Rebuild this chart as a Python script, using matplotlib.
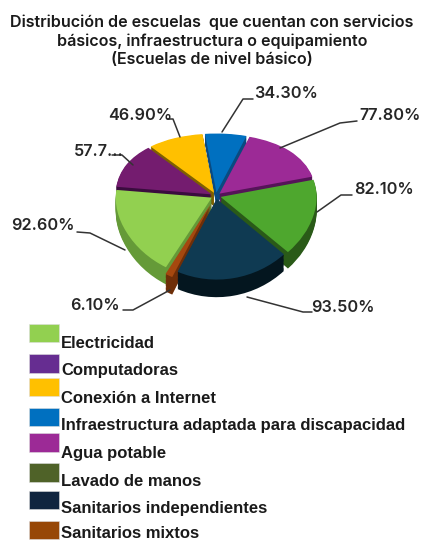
import numpy as np
import matplotlib
matplotlib.use("Agg")
import matplotlib.pyplot as plt
from matplotlib.patches import Rectangle

# datos
categorias = ["Electricidad", "Computadoras", "Conexión a Internet",
              "Infraestructura adaptada para discapacidad", "Agua potable",
              "Lavado de manos", "Sanitarios independientes", "Sanitarios mixtos"]
valores = [92.6, 57.7, 46.9, 34.3, 77.8, 82.1, 93.5, 6.1]
etiquetas = ["92.60%", "57.7...", "46.90%", "34.30%", "77.80%", "82.10%", "93.50%", "6.10%"]
titulo = ("Distribución de escuelas  que cuentan con servicios\n"
          "básicos, infraestructura o equipamiento\n"
          "(Escuelas de nivel básico)")

# colores
col_top = ["#92D050", "#741C6F", "#FFC000", "#0070C0", "#9C2A96", "#4EA72E", "#0F3A52", "#A5480F"]
col_lado = ["#659A38", "#3A0C3E", "#7E6000", "#0A4A80", "#551458", "#2A5A18", "#04161F", "#6E2E08"]
col_leyenda = ["#92D050", "#662D91", "#FFC000", "#0070C0", "#9C2A96", "#4F6228", "#10253F", "#974706"]
explode = [0.05, 0.05, 0.05, 0.05, 0.05, 0.05, 0.04, 0.11]

W, H = 422, 542
fig = plt.figure(figsize=(W / 100, H / 100), dpi=100, facecolor="white")

# pastel con perspectiva: escala no lineal en y
def f(y):
    return 70 * np.asarray(y) - 10 * np.asarray(y) ** 2

def finv(v):
    return (70 - np.sqrt(np.maximum(4900 - 40 * np.asarray(v), 0))) / 20

x0, x1, y0, y1 = 60, 372, 90, 310
cx, cy, rx = 216, 196, 96
ax = fig.add_axes([x0 / W, 1 - y1 / H, (x1 - x0) / W, (y1 - y0) / H])

prof = 0.19
capas = np.linspace(prof, 0, 14)
for d in capas:
    cols = col_top if d == 0 else col_lado
    ax.pie(valores, colors=cols, startangle=-118.5, counterclock=False,
           explode=explode, center=(0, -d), radius=1, normalize=True,
           wedgeprops={"linewidth": 0, "edgecolor": "none"})

ax.set_aspect("auto")
ax.set_xlim((x0 - cx) / rx, (x1 - cx) / rx)
ax.set_yscale("function", functions=(f, finv))
ax.set_ylim(finv(cy - y1), finv(cy - y0))
ax.set_axis_off()

# capa en pixeles para textos, guias y leyenda
ov = fig.add_axes([0, 0, 1, 1], facecolor="none")
ov.set_xlim(0, W)
ov.set_ylim(H, 0)
ov.set_axis_off()

ov.text(212, 41, titulo, ha="center", va="center", fontsize=11.6, family="Inter",
        fontweight="semibold", color="#1a1a1a", linespacing=1.27)

pos_etiq = [(43, 226), (99, 151), (140, 115), (286, 94), (390, 115), (384, 190), (343, 307), (95, 305)]
guias = [
    [(77, 232), (90, 233), (125, 250)],
    [(112, 155), (122, 155), (133, 165)],
    [(168, 119), (173, 119), (180, 137)],
    [(253, 99), (243, 99), (222, 132)],
    [(357, 121), (340, 123), (280, 148)],
    [(352, 195), (341, 195), (317, 212)],
    [(312, 312), (303, 312), (247, 297)],
    [(123, 310), (133, 310), (170, 290)],
]
for (px, py), txt, g in zip(pos_etiq, etiquetas, guias):
    ov.text(px, py, txt, ha="center", va="center", fontsize=11.7, family="Inter",
            fontweight="semibold", color="#262626")
    xs, ys = zip(*g)
    ov.plot(xs, ys, color="#333333", lw=1.1, solid_capstyle="round")

# leyenda
caja_y = [(324, 342), (354, 373), (378, 396), (408, 426), (433, 452), (463, 482), (491, 509), (521, 539)]
base_y = [348, 375, 403, 430, 458, 486, 513, 538.5]
for cat, c, (a, b), by in zip(categorias, col_leyenda, caja_y, base_y):
    ov.add_patch(Rectangle((29, a), 30, b - a, facecolor=c, edgecolor="#dddddd", lw=0.4))
    ov.text(61, by, cat, ha="left", va="baseline", fontsize=11.95,
            family="Liberation Sans", fontweight="bold", color="#1a1a1a")

fig.savefig("out.png", dpi=100)
